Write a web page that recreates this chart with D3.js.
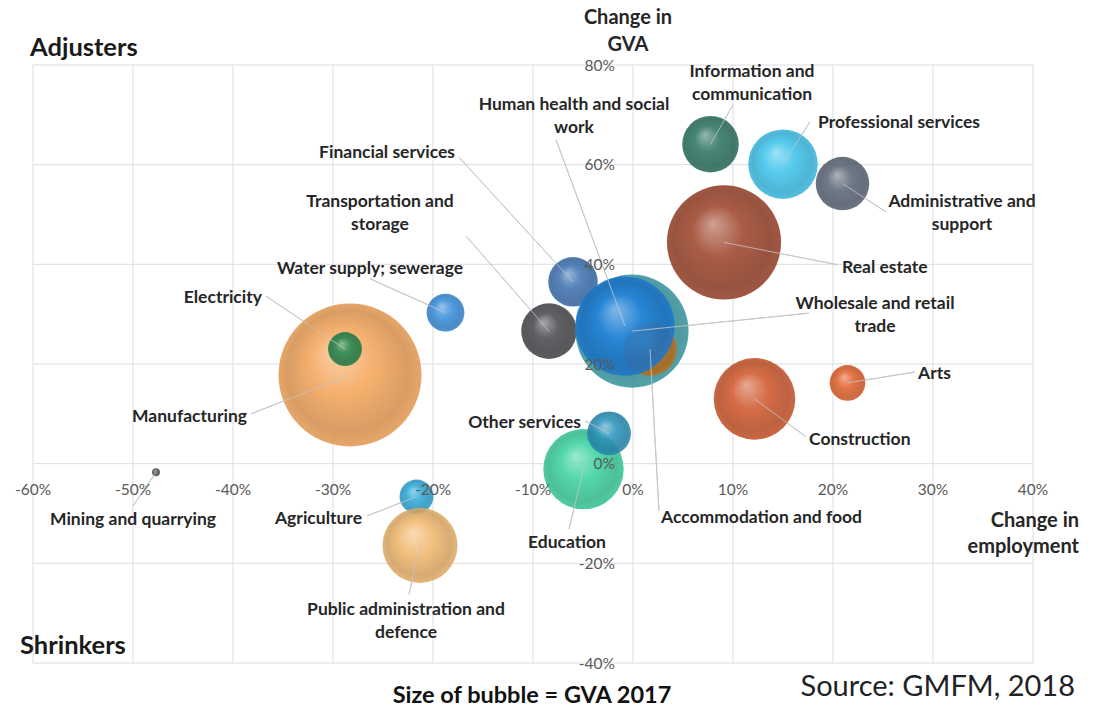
<!DOCTYPE html>
<html>
<head>
<meta charset="utf-8">
<script src="https://cdn.jsdelivr.net/npm/d3@7/dist/d3.min.js"></script>
<style>
  html, body { margin: 0; padding: 0; background: #ffffff; }
  svg { display: block; }
</style>
</head>
<body>
<svg id="chart" width="1096" height="709"></svg>
<script>
// ---------- DATA ----------
const sectors = [
  "Mining and quarrying", "Manufacturing", "Electricity", "Water supply; sewerage",
  "Agriculture", "Public administration and defence", "Transportation and storage",
  "Financial services", "Wholesale and retail trade", "Accommodation and food",
  "Human health and social work", "Real estate", "Information and communication",
  "Professional services", "Administrative and support", "Construction", "Arts",
  "Education", "Other services"
];
// change in employment (%)
const empChange = [-47.7, -28.3, -28.8, -18.75, -21.65, -21.3, -8.4, -6.0, -0.1, 1.7,
                   -0.8, 9.1, 7.75, 15.0, 20.95, 12.15, 21.45, -4.95, -2.4];
// change in GVA (%)
const gvaChange = [-1.7, 17.8, 23.0, 30.3, -6.6, -16.4, 26.6, 36.5, 26.6, 23.0,
                   27.6, 44.4, 64.1, 60.1, 56.2, 13.0, 16.2, -1.1, 6.1];
// GVA 2017 (bubble size, estimated relative units)
const gva2017 = [0.025, 8.0, 0.45, 0.56, 0.45, 2.2, 1.21, 0.96, 5.0, 1.12,
                 3.86, 5.1, 1.25, 1.89, 1.12, 2.6, 0.5, 2.53, 0.75];

const xTicks = [-60, -50, -40, -30, -20, -10, 0, 10, 20, 30, 40];
const yTicks = [-40, -20, 0, 20, 40, 60, 80];

// ---------- STYLES / LAYOUT ----------
const colors = ["#5a5a5a", "#f4a55a", "#23874f", "#3a8fdc", "#2fa9d9", "#f1b86e",
                "#4a4b4e", "#3e73b2", "#3ea0aa", "#c8781e", "#1f80da", "#9e452b",
                "#2d7461", "#3ec4ec", "#5c6877", "#d0582c", "#e2622c", "#3cd3a0", "#2b93bb"];

// label layout in data units: [text lines, anchor, x, y, leader start x, leader start y]
const labelLayout = [
  [["Mining and quarrying"], "middle", -50.0, -11.1, -50.0, -8.5],
  [["Manufacturing"], "end", -38.6, 9.6, -38.2, 10.0],
  [["Electricity"], "end", -37.1, 33.4, -36.7, 33.6],
  [["Water supply; sewerage"], "middle", -26.3, 39.3, -26.3, 37.1],
  [["Agriculture"], "end", -27.1, -10.9, -26.6, -10.5],
  [["Public administration and", "defence"], "middle", -22.7, -29.2, -22.4, -26.2],
  [["Transportation and", "storage"], "middle", -25.3, 52.7, -16.7, 45.7],
  [["Financial services"], "end", -17.8, 62.6, -17.4, 61.5],
  [["Wholesale and retail", "trade"], "middle", 24.2, 32.2, 17.6, 30.2],
  [["Accommodation and food"], "start", 2.8, -10.7, 2.6, -9.5],
  [["Human health and social", "work"], "middle", -5.9, 72.2, -7.7, 65.0],
  [["Real estate"], "start", 20.9, 39.5, 20.5, 39.9],
  [["Information and", "communication"], "middle", 11.9, 78.8, 10.0, 72.0],
  [["Professional services"], "start", 18.5, 68.6, 17.7, 68.6],
  [["Administrative and", "support"], "middle", 32.9, 52.7, 25.3, 50.5],
  [["Construction"], "start", 17.6, 5.0, 17.3, 5.4],
  [["Arts"], "start", 28.5, 18.2, 28.2, 18.4],
  [["Education"], "middle", -6.6, -15.7, -6.4, -13.1],
  [["Other services"], "end", -5.2, 8.4, -4.8, 8.6]
];

const FONT = "Lato, 'Open Sans', sans-serif";
const svg = d3.select("#chart");

const x = d3.scaleLinear().domain([-60, 40]).range([33, 1033]);
const y = d3.scaleLinear().domain([-40, 80]).range([663, 65]);
const r = d3.scaleSqrt().domain([0, d3.max(gva2017)]).range([0, 71.5]);

// gridlines
const grid = svg.append("g");
grid.selectAll("line.v").data(xTicks).join("line")
  .attr("x1", d => x(d)).attr("x2", d => x(d))
  .attr("y1", y(80)).attr("y2", y(-40))
  .attr("stroke", "#dcdde3").attr("stroke-width", 1);
grid.selectAll("line.h").data(yTicks).join("line")
  .attr("y1", d => y(d)).attr("y2", d => y(d))
  .attr("x1", x(-60)).attr("x2", x(40))
  .attr("stroke", "#dcdde3").attr("stroke-width", 1);

// gradients
const defs = svg.append("defs");
colors.forEach((c, i) => {
  const g = defs.append("radialGradient").attr("id", "g" + i)
    .attr("cx", "50%").attr("cy", "50%").attr("r", "50%")
    .attr("fx", "40%").attr("fy", "33%");
  const base = d3.color(c);
  g.append("stop").attr("offset", "0%").attr("stop-color", d3.interpolateRgb(c, "#ffffff")(0.42));
  g.append("stop").attr("offset", "45%").attr("stop-color", base.formatHex());
  g.append("stop").attr("offset", "85%").attr("stop-color", base.darker(0.4).formatHex());
  g.append("stop").attr("offset", "100%").attr("stop-color", base.darker(0.2).formatHex());
});

const idx = d3.range(sectors.length);

// leader lines
svg.append("g").selectAll("line").data(idx).join("line")
  .attr("x1", i => x(labelLayout[i][4])).attr("y1", i => y(labelLayout[i][5]))
  .attr("x2", i => x(empChange[i])).attr("y2", i => y(gvaChange[i]))
  .attr("stroke", "#b9bcc4").attr("stroke-width", 1);

// bubbles
svg.append("g").selectAll("circle").data(idx).join("circle")
  .attr("cx", i => x(empChange[i]))
  .attr("cy", i => y(gvaChange[i]))
  .attr("r", i => Math.max(3.5, r(gva2017[i])))
  .attr("fill", i => `url(#g${i})`)
  .attr("fill-opacity", 0.88);

// leader lines over bubbles (faint)
svg.append("g").selectAll("line").data(idx).join("line")
  .attr("x1", i => x(labelLayout[i][4])).attr("y1", i => y(labelLayout[i][5]))
  .attr("x2", i => x(empChange[i])).attr("y2", i => y(gvaChange[i]))
  .attr("stroke", "#c8cad0").attr("stroke-width", 1).attr("stroke-opacity", 0.8);

// axis tick labels
svg.append("g").selectAll("text").data(xTicks).join("text")
  .attr("x", d => x(d)).attr("y", y(0) + 31)
  .attr("text-anchor", "middle")
  .attr("font-family", FONT).attr("font-size", 15.5).attr("fill", "#595959")
  .text(d => d + "%");
svg.append("g").selectAll("text").data(yTicks).join("text")
  .attr("x", x(0) - 18).attr("y", d => y(d) + 5.5)
  .attr("text-anchor", "end")
  .attr("font-family", FONT).attr("font-size", 15.5).attr("fill", "#595959")
  .text(d => d + "%");

// sector labels
const lab = svg.append("g").selectAll("text").data(idx).join("text")
  .attr("text-anchor", i => labelLayout[i][1])
  .attr("font-family", FONT).attr("font-size", 17.5).attr("font-weight", "bold")
  .attr("fill", "#262626");
lab.each(function(i) {
  const L = labelLayout[i];
  const t = d3.select(this);
  L[0].forEach((line, k) => {
    t.append("tspan").attr("x", x(L[2])).attr("y", y(L[3]) + 6 + k * 23).text(line);
  });
});

// titles
function txt(s, px, py, size, anchor, weight, fill) {
  svg.append("text").attr("x", px).attr("y", py).attr("text-anchor", anchor)
    .attr("font-family", FONT).attr("font-size", size).attr("font-weight", weight)
    .attr("fill", fill).text(s);
}
txt("Adjusters", 30, 56, 25.5, "start", "bold", "#1a1a1a");
txt("Shrinkers", 20, 654, 25.5, "start", "bold", "#1a1a1a");
txt("Change in", 628, 24, 20, "middle", "bold", "#262626");
txt("GVA", 628, 51, 20, "middle", "bold", "#262626");
txt("Change in", 1079, 527, 20, "end", "bold", "#262626");
txt("employment", 1079, 553, 20, "end", "bold", "#262626");
txt("Size of bubble = GVA 2017", 532, 703, 23.5, "middle", "bold", "#111111");
txt("Source: GMFM, 2018", 1075, 696, 29, "end", "normal", "#1f2328");
</script>
</body>
</html>
